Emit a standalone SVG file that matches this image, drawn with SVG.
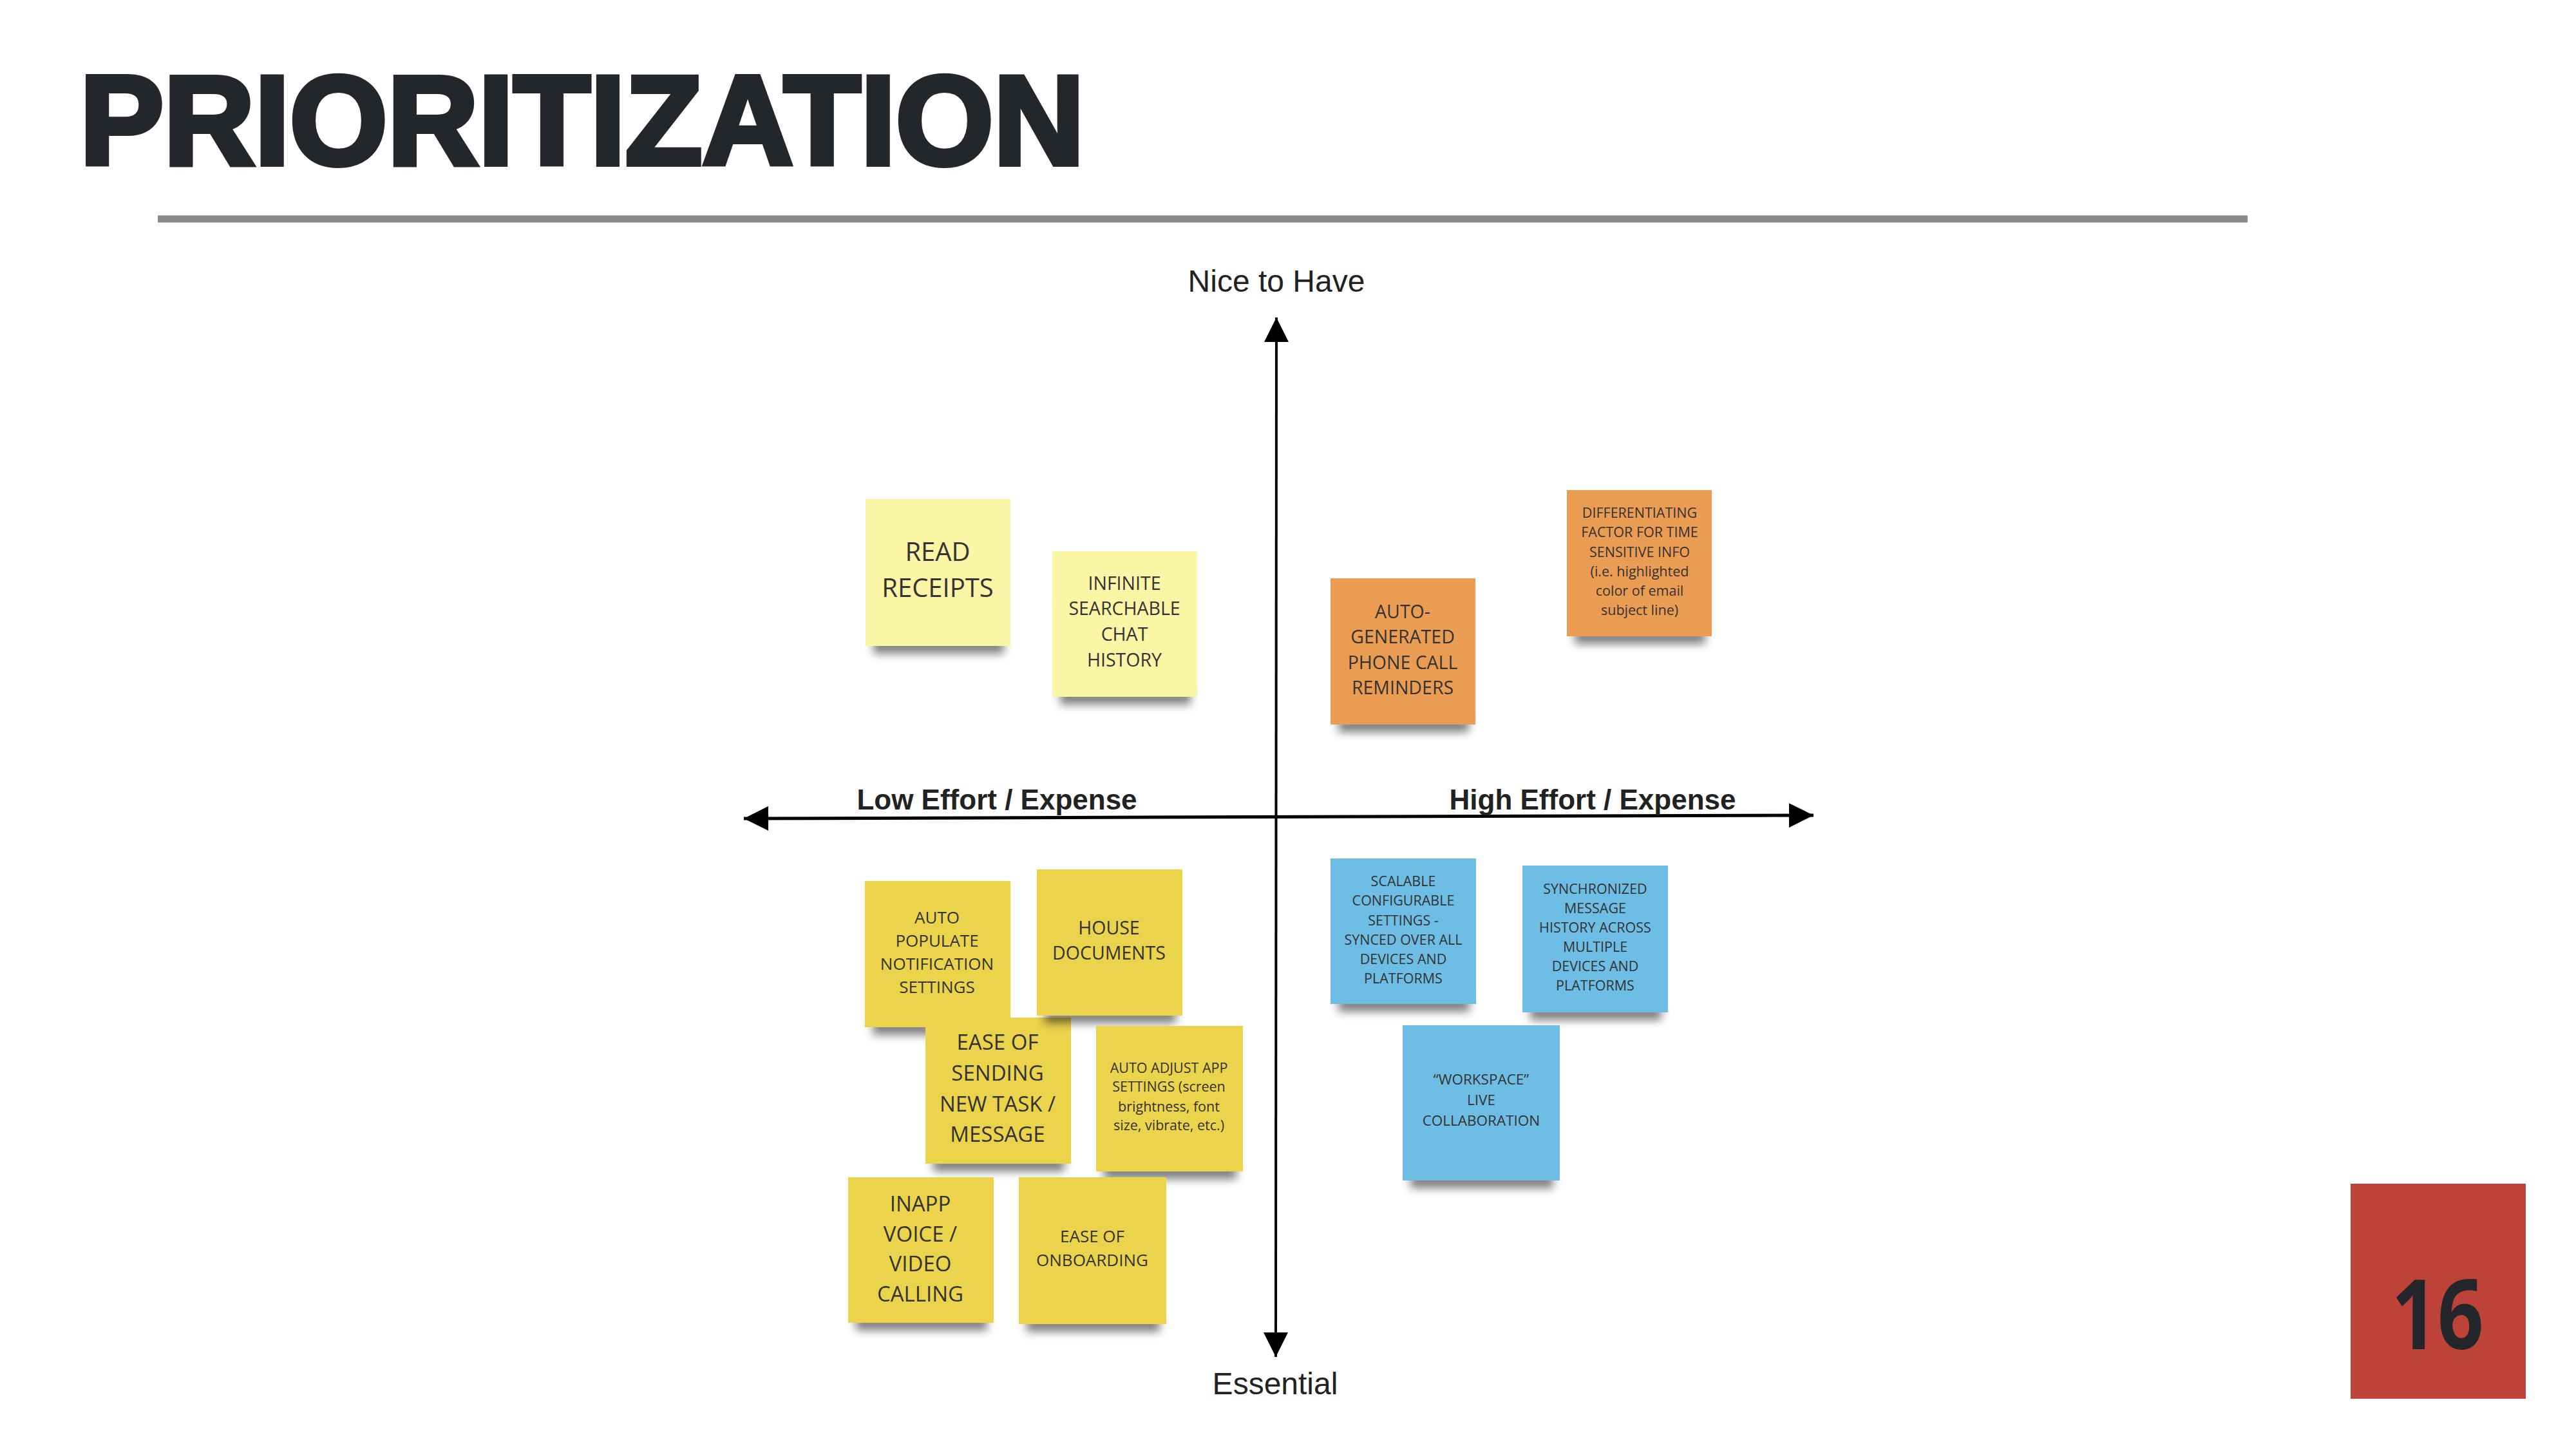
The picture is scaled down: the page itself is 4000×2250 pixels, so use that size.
<svg xmlns="http://www.w3.org/2000/svg" width="4000" height="2250" viewBox="0 0 4000 2250">
<style>
.note text{font-family:"Open Sans","Liberation Sans",sans-serif;fill:#333;text-anchor:middle}
.light{fill:#fbf5a6}
.orange{fill:#ea9c52}
.yellow{fill:#ecd34c}
.blue{fill:#6dbde4}
.shadow{fill:#000;opacity:.5;filter:url(#sh)}
.axis-label{font-family:"Liberation Sans",Arial,sans-serif;fill:#222;text-anchor:middle}
.axis{stroke:#000;fill:none}
</style>
<defs>
<filter id="sh" x="-20%" y="-100%" width="140%" height="300%"><feGaussianBlur stdDeviation="7"/></filter>
<marker id="ah" viewBox="0 0 38 38" refX="38" refY="19" markerWidth="38" markerHeight="38" markerUnits="userSpaceOnUse" orient="auto-start-reverse"><path d="M0,0 L38,19 L0,38 Z" fill="#000"/></marker>
</defs>
<rect width="4000" height="2250" fill="#fff"/>
<g id="title">
<text x="124" y="255" font-family="Liberation Sans,Arial,sans-serif" font-weight="700" font-size="196" fill="#23262b" stroke="#23262b" stroke-width="8" stroke-linejoin="miter" textLength="1560" lengthAdjust="spacingAndGlyphs">PRIORITIZATION</text>
<line x1="245" y1="340" x2="3490" y2="340" stroke="#8a8a8a" stroke-width="11"/>
</g>
<g id="connectors">
<line class="axis" x1="1982" y1="493" x2="1981" y2="2107" stroke-width="4" marker-start="url(#ah)" marker-end="url(#ah)"/>
<line class="axis" x1="1155" y1="1271" x2="2816" y2="1266" stroke-width="5" marker-start="url(#ah)" marker-end="url(#ah)"/>
</g>
<g id="axis-labels">
<text class="axis-label" x="1982" y="453" font-size="48">Nice to Have</text>
<text class="axis-label" x="1980" y="2165" font-size="48">Essential</text>
<text class="axis-label" x="1548" y="1257" font-size="44" font-weight="700">Low Effort / Expense</text>
<text class="axis-label" x="2473" y="1257" font-size="44" font-weight="700">High Effort / Expense</text>
</g>
<g id="note-read-receipts" class="note">
<rect class="shadow" x="1356" y="993" width="203" height="22"/>
<rect class="light" x="1344" y="775" width="225" height="228"/>
<text font-size="40"><tspan x="1456" y="871">READ</tspan><tspan x="1456" y="927">RECEIPTS</tspan></text>
</g>
<g id="note-infinite-chat" class="note">
<rect class="shadow" x="1646" y="1072" width="203" height="22"/>
<rect class="light" x="1634" y="856" width="225" height="226"/>
<text font-size="28.5"><tspan x="1746" y="916">INFINITE</tspan><tspan x="1746" y="955">SEARCHABLE</tspan><tspan x="1746" y="995">CHAT</tspan><tspan x="1746" y="1035">HISTORY</tspan></text>
</g>
<g id="note-auto-generated" class="note">
<rect class="shadow" x="2078" y="1115" width="203" height="22"/>
<rect class="orange" x="2066" y="898" width="225" height="227"/>
<text font-size="28.5"><tspan x="2178" y="960">AUTO-</tspan><tspan x="2178" y="999">GENERATED</tspan><tspan x="2178" y="1039">PHONE CALL</tspan><tspan x="2178" y="1078">REMINDERS</tspan></text>
</g>
<g id="note-differentiating" class="note">
<rect class="shadow" x="2445" y="978" width="203" height="22"/>
<rect class="orange" x="2433" y="761" width="225" height="227"/>
<text font-size="21.5"><tspan x="2546" y="804">DIFFERENTIATING</tspan><tspan x="2546" y="834">FACTOR FOR TIME</tspan><tspan x="2546" y="865">SENSITIVE INFO</tspan><tspan x="2546" y="895">(i.e. highlighted</tspan><tspan x="2546" y="925">color of email</tspan><tspan x="2546" y="955">subject line)</tspan></text>
</g>
<g id="note-auto-populate" class="note">
<rect class="shadow" x="1355" y="1585" width="204" height="22"/>
<rect class="yellow" x="1343" y="1368" width="226" height="227"/>
<text font-size="26"><tspan x="1455" y="1434">AUTO</tspan><tspan x="1455" y="1470">POPULATE</tspan><tspan x="1455" y="1506">NOTIFICATION</tspan><tspan x="1455" y="1542">SETTINGS</tspan></text>
</g>
<g id="note-ease-sending" class="note">
<rect class="shadow" x="1449" y="1797" width="204" height="22"/>
<rect class="yellow" x="1437" y="1580" width="226" height="227"/>
<text font-size="33"><tspan x="1549" y="1630">EASE OF</tspan><tspan x="1549" y="1678">SENDING</tspan><tspan x="1549" y="1726">NEW TASK /</tspan><tspan x="1549" y="1773">MESSAGE</tspan></text>
</g>
<g id="note-house-documents" class="note">
<rect class="shadow" x="1622" y="1567" width="204" height="22"/>
<rect class="yellow" x="1610" y="1350" width="226" height="227"/>
<text font-size="28.5"><tspan x="1722" y="1451">HOUSE</tspan><tspan x="1722" y="1490">DOCUMENTS</tspan></text>
</g>
<g id="note-auto-adjust" class="note">
<rect class="shadow" x="1714" y="1809" width="206" height="22"/>
<rect class="yellow" x="1702" y="1593" width="228" height="226"/>
<text font-size="21.5"><tspan x="1815" y="1666">AUTO ADJUST APP</tspan><tspan x="1815" y="1695">SETTINGS (screen</tspan><tspan x="1815" y="1726">brightness, font</tspan><tspan x="1815" y="1755">size, vibrate, etc.)</tspan></text>
</g>
<g id="note-inapp-calling" class="note">
<rect class="shadow" x="1329" y="2044" width="204" height="22"/>
<rect class="yellow" x="1317" y="1828" width="226" height="226"/>
<text font-size="33"><tspan x="1429" y="1881">INAPP</tspan><tspan x="1429" y="1928">VOICE /</tspan><tspan x="1429" y="1974">VIDEO</tspan><tspan x="1429" y="2021">CALLING</tspan></text>
</g>
<g id="note-ease-onboarding" class="note">
<rect class="shadow" x="1594" y="2046" width="207" height="22"/>
<rect class="yellow" x="1582" y="1828" width="229" height="228"/>
<text font-size="26"><tspan x="1696" y="1929">EASE OF</tspan><tspan x="1696" y="1966">ONBOARDING</tspan></text>
</g>
<g id="note-scalable-settings" class="note">
<rect class="shadow" x="2078" y="1549" width="204" height="22"/>
<rect class="blue" x="2066" y="1333" width="226" height="226"/>
<text font-size="21.5"><tspan x="2179" y="1376">SCALABLE</tspan><tspan x="2179" y="1406">CONFIGURABLE</tspan><tspan x="2179" y="1437">SETTINGS -</tspan><tspan x="2179" y="1467">SYNCED OVER ALL</tspan><tspan x="2179" y="1497">DEVICES AND</tspan><tspan x="2179" y="1527">PLATFORMS</tspan></text>
</g>
<g id="note-synchronized-history" class="note">
<rect class="shadow" x="2376" y="1562" width="204" height="22"/>
<rect class="blue" x="2364" y="1344" width="226" height="228"/>
<text font-size="21.5"><tspan x="2477" y="1388">SYNCHRONIZED</tspan><tspan x="2477" y="1418">MESSAGE</tspan><tspan x="2477" y="1448">HISTORY ACROSS</tspan><tspan x="2477" y="1478">MULTIPLE</tspan><tspan x="2477" y="1508">DEVICES AND</tspan><tspan x="2477" y="1538">PLATFORMS</tspan></text>
</g>
<g id="note-workspace" class="note">
<rect class="shadow" x="2190" y="1823" width="222" height="22"/>
<rect class="blue" x="2178" y="1592" width="244" height="241"/>
<text font-size="22.5"><tspan x="2300" y="1684">“WORKSPACE”</tspan><tspan x="2300" y="1716">LIVE</tspan><tspan x="2300" y="1748">COLLABORATION</tspan></text>
</g>
<g id="page-number">
<rect x="3650" y="1838" width="272" height="334" fill="#bd4339"/>
<text x="3785" y="2095" font-family="Open Sans,Liberation Sans,sans-serif" font-weight="700" font-size="150" fill="#23262b" text-anchor="middle" textLength="143" lengthAdjust="spacingAndGlyphs">16</text>
</g>
</svg>
